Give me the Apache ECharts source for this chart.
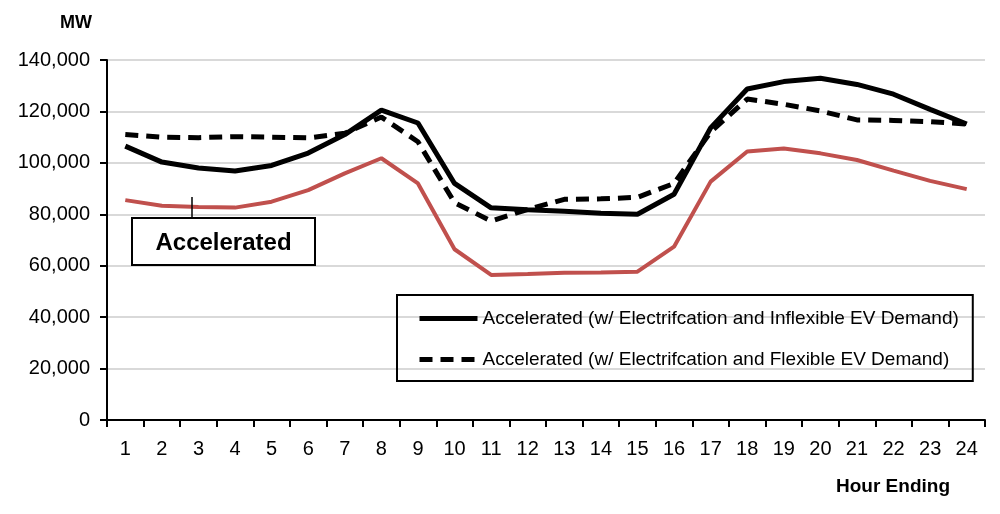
<!DOCTYPE html>
<html>
<head>
<meta charset="utf-8">
<script src="https://cdn.jsdelivr.net/npm/echarts@6/dist/echarts.min.js"></script>
<style>html,body{margin:0;padding:0;background:#fff}#c{width:1000px;height:514px}</style>
</head>
<body>
<div id="c"></div>
<script>
const hours = ['1','2','3','4','5','6','7','8','9','10','11','12','13','14','15','16','17','18','19','20','21','22','23','24'];
const inflexible = [106500,100300,98000,96800,99000,103800,111000,120500,115500,92000,82500,81800,81200,80400,80000,87800,113600,128700,131600,132900,130500,126700,120800,115100];
const flexible = [111000,110000,109800,110200,110000,109700,111500,117800,108200,84500,77400,81900,85800,86000,86600,92000,112000,124800,122800,120200,116700,116500,116000,115100];
const accelerated = [85500,83300,82800,82600,84900,89400,95900,101800,92000,66400,56400,56800,57300,57400,57700,67400,92700,104400,105600,103700,101100,97000,93000,89800];
const yTicks = [0,20000,40000,60000,80000,100000,120000,140000];
const nameInflex = 'Accelerated (w/ Electrifcation and Inflexible EV Demand)';
const nameFlex = 'Accelerated (w/ Electrifcation and Flexible EV Demand)';

const FONT = "'Liberation Sans', Arial, sans-serif";
const chart = echarts.init(document.getElementById('c'));
chart.setOption({
  animation: false,
  textStyle: {fontFamily: FONT},
  grid: {left: 107, right: 15, top: 60, bottom: 94, containLabel: false},
  legend: {
    data: [nameInflex, nameFlex],
    orient: 'vertical',
    left: 397, top: 295,
    padding: [12, 14, 10, 20],
    itemGap: 18,
    itemWidth: 58, itemHeight: 14,
    borderColor: '#000', borderWidth: 2,
    itemStyle: {opacity: 0},
    lineStyle: {width: 5},
    textStyle: {fontSize: 19, color: '#000', fontFamily: FONT, lineHeight: 23},
    selectedMode: false
  },
  xAxis: {
    type: 'category',
    data: hours,
    boundaryGap: true,
    name: 'Hour Ending',
    nameLocation: 'end',
    nameGap: 0,
    nameTextStyle: {fontSize: 19, fontWeight: 'bold', color: '#000', align: 'right', verticalAlign: 'top', padding: [57, 35, 0, 0]},
    axisLine: {lineStyle: {color: '#000', width: 2}},
    axisTick: {show: true, alignWithLabel: false, length: 7, lineStyle: {color: '#000', width: 2}},
    axisLabel: {fontSize: 20, color: '#000', margin: 19}
  },
  yAxis: {
    type: 'value',
    min: 0, max: 140000, interval: 20000,
    name: 'MW',
    nameLocation: 'end',
    nameGap: 28,
    nameTextStyle: {fontSize: 18, fontWeight: 'bold', color: '#000', align: 'right', padding: [0, 15, 0, 0]},
    axisLine: {show: true, lineStyle: {color: '#000', width: 2}},
    axisTick: {show: true, length: 7, lineStyle: {color: '#000', width: 2}},
    axisLabel: {fontSize: 20, color: '#000', margin: 17,
      formatter: v => yTicks.includes(v) ? v.toLocaleString('en-US') : ''},
    splitLine: {lineStyle: {color: '#d9d9d9', width: 2}}
  },
  series: [
    {name: 'Accelerated', type: 'line', data: accelerated, symbol: 'none',
      lineStyle: {color: '#c0504d', width: 4}, itemStyle: {color: '#c0504d'}, z: 2},
    {name: nameFlex, type: 'line', data: flexible, symbol: 'none',
      lineStyle: {color: '#000', width: 5, type: [13, 8]}, itemStyle: {color: '#000'}, z: 3},
    {name: nameInflex, type: 'line', data: inflexible, symbol: 'none',
      lineStyle: {color: '#000', width: 5}, itemStyle: {color: '#000'}, z: 4}
  ],
  graphic: [
    {type: 'line', shape: {x1: 192, y1: 197, x2: 192, y2: 218}, style: {stroke: '#000', lineWidth: 1.5}, z: 10},
    {type: 'rect', shape: {x: 132, y: 218, width: 183, height: 47}, style: {fill: '#fff', stroke: '#000', lineWidth: 2}, z: 10},
    {type: 'text', x: 223.5, y: 243, style: {text: 'Accelerated', font: "bold 24px 'Liberation Sans', Arial, sans-serif", fill: '#000', align: 'center', verticalAlign: 'middle'}, z: 11}
  ]
});
</script>
</body>
</html>
